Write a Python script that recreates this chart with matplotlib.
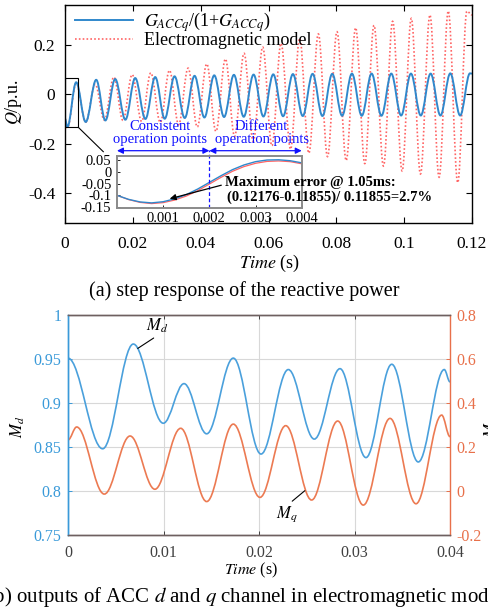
import matplotlib
matplotlib.use('Agg')
import matplotlib.pyplot as plt
from matplotlib.path import Path
from matplotlib.patches import PathPatch, Rectangle, FancyArrowPatch
from matplotlib.lines import Line2D

plt.rcParams['font.family'] = ['Liberation Serif', 'DejaVu Serif']
plt.rcParams['mathtext.fontset'] = 'stix'

# ---------------- panel (a): extrema of Q (p.u.) versus time (s) ----------------
tf_t = [0.0000, 0.0007, 0.0033, 0.0061, 0.0092, 0.0119, 0.0148, 0.0178, 0.0207, 0.0237,
        0.0266, 0.0294, 0.0323, 0.0353, 0.0382, 0.0411, 0.0440, 0.0469, 0.0498, 0.0527,
        0.0556, 0.0585, 0.0614, 0.0643, 0.0672, 0.0701, 0.0730, 0.0759, 0.0788, 0.0817,
        0.0846, 0.0875, 0.0904, 0.0933, 0.0962, 0.0991, 0.1020, 0.1049, 0.1078, 0.1107,
        0.1136, 0.1165, 0.1194, 0.1200]
tf_q = [-0.100, -0.132, 0.048, -0.112, 0.058, -0.106, 0.061, -0.103, 0.065, -0.100,
        0.069, -0.099, 0.072, -0.096, 0.074, -0.094, 0.076, -0.092, 0.078, -0.091,
        0.079, -0.090, 0.080, -0.089, 0.081, -0.088, 0.082, -0.088, 0.082, -0.087,
        0.083, -0.087, 0.083, -0.087, 0.083, -0.086, 0.083, -0.086, 0.083, -0.086,
        0.084, -0.086, 0.084, 0.083]

em_t = [0.0000, 0.0007, 0.0033, 0.0061, 0.0089, 0.0116, 0.0144, 0.0171, 0.0198, 0.0226,
        0.0253, 0.0281, 0.0308, 0.0335, 0.0363, 0.0390, 0.0418, 0.0445, 0.0473, 0.0500,
        0.0528, 0.0555, 0.0583, 0.0610, 0.0637, 0.0665, 0.0692, 0.0719, 0.0747, 0.0774,
        0.0802, 0.0829, 0.0857, 0.0884, 0.0911, 0.0939, 0.0966, 0.0994, 0.1021, 0.1048,
        0.1076, 0.1103, 0.1130, 0.1158, 0.1185, 0.1200]
em_q = [-0.100, -0.136, 0.044, -0.113, 0.040, -0.104, 0.069, -0.106, 0.079, -0.110,
        0.086, -0.114, 0.096, -0.123, 0.105, -0.132, 0.122, -0.150, 0.142, -0.170,
        0.165, -0.190, 0.190, -0.208, 0.205, -0.222, 0.225, -0.238, 0.243, -0.252,
        0.252, -0.268, 0.268, -0.280, 0.278, -0.290, 0.294, -0.310, 0.306, -0.322,
        0.320, -0.335, 0.336, -0.357, 0.335, 0.320]

# inset (zoom of the first 4 ms)
in_t = [0.0, 0.00025, 0.0005, 0.00075, 0.001, 0.00125, 0.0015, 0.00175, 0.002,
        0.00225, 0.0025, 0.00275, 0.003, 0.00325, 0.0035, 0.00375, 0.004]
in_tf = [-0.100, -0.117, -0.128, -0.132, -0.127, -0.115, -0.097, -0.073, -0.045,
         -0.017, 0.009, 0.029, 0.043, 0.050, 0.051, 0.047, 0.038]
in_em = [-0.100, -0.118, -0.130, -0.135, -0.131, -0.120, -0.103, -0.080, -0.052,
         -0.024, 0.002, 0.022, 0.036, 0.044, 0.046, 0.043, 0.034]

# ---------------- panel (b): extrema of ACC outputs ----------------
md_t = [0.0000, 0.00363, 0.00684, 0.00998, 0.01215, 0.01452, 0.01731, 0.02021, 0.02307,
        0.02579, 0.02848, 0.03120, 0.03390, 0.03668, 0.03940, 0.0400]
md_v = [0.951, 0.848, 0.967, 0.877, 0.922, 0.865, 0.951, 0.842, 0.938,
        0.859, 0.939, 0.838, 0.944, 0.833, 0.938, 0.924]
mq_t = [0.0000, 0.00091, 0.0038, 0.0065, 0.0091, 0.0118, 0.01452, 0.01731, 0.0201,
        0.0228, 0.02551, 0.02824, 0.03092, 0.03372, 0.03644, 0.03913, 0.0400]
mq_v = [0.232, 0.291, -0.014, 0.250, 0.008, 0.285, -0.048, 0.304, -0.029,
        0.297, -0.041, 0.318, -0.064, 0.330, -0.058, 0.345, 0.247]

a_xticks = [0, 0.02, 0.04, 0.06, 0.08, 0.1, 0.12]
a_xlabels = ['0', '0.02', '0.04', '0.06', '0.08', '0.1', '0.12']
a_yticks = [-0.4, -0.2, 0, 0.2]
a_ylabels = ['-0.4', '-0.2', '0', '0.2']
in_xticks = [0.001, 0.002, 0.003, 0.004]
in_xlabels = ['0.001', '0.002', '0.003', '0.004']
in_yticks = [-0.15, -0.1, -0.05, 0, 0.05]
in_ylabels = ['-0.15', '-0.1', '-0.05', '0', '0.05']
b_xticks = [0, 0.01, 0.02, 0.03, 0.04]
b_xlabels = ['0', '0.01', '0.02', '0.03', '0.04']
b_lticks = [0.75, 0.8, 0.85, 0.9, 0.95, 1.0]
b_llabels = ['0.75', '0.8', '0.85', '0.9', '0.95', '1']
b_rticks = [-0.2, 0, 0.2, 0.4, 0.6, 0.8]
b_rlabels = ['-0.2', '0', '0.2', '0.4', '0.6', '0.8']

W, H = 488, 612


def fx(x):
    return x / W


def fy(y):
    return 1 - y / H


def smooth(ax, ts, vs, **kw):
    c = 0.3634
    verts = [(ts[0], vs[0])]
    codes = [Path.MOVETO]
    for i in range(len(ts) - 1):
        h = ts[i + 1] - ts[i]
        verts += [(ts[i] + c * h, vs[i]), (ts[i + 1] - c * h, vs[i + 1]), (ts[i + 1], vs[i + 1])]
        codes += [Path.CURVE4] * 3
    p = PathPatch(Path(verts, codes), fill=False, **kw)
    ax.add_patch(p)
    return p


BLUE_A = '#3088cc'
RED_A = '#ff6464'
RED_LS = (0, (1, 1.3))

fig = plt.figure(figsize=(W / 100, H / 100), dpi=100)

# ---------------- panel (a) ----------------
ax = fig.add_axes([fx(65), fy(223), fx(472) - fx(65), fy(5) - fy(223)])
smooth(ax, em_t, em_q, edgecolor=RED_A, lw=1.2, linestyle=RED_LS)
smooth(ax, tf_t, tf_q, edgecolor=BLUE_A, lw=1.4)
ax.set_xlim(0, 0.12)
ax.set_ylim(-0.52, 0.36)
ax.set_xticks(a_xticks)
ax.set_xticklabels(a_xlabels)
ax.set_yticks(a_yticks)
ax.set_yticklabels(a_ylabels)
ax.tick_params(direction='in', top=True, right=True, length=4, width=0.8,
               labelsize=12.5, colors='black')
ax.tick_params(axis='x', pad=9)
ax.tick_params(axis='y', pad=7)
for s in ax.spines.values():
    s.set_linewidth(1.0)

handles = [Line2D([], [], color=BLUE_A, lw=1.4),
           Line2D([], [], color=RED_A, lw=1.2, linestyle=RED_LS)]
labels = [r'$G_{ACCq}$/(1+$G_{ACCq}$)', 'Electromagnetic model']
ax.legend(handles, labels, loc='upper left', bbox_to_anchor=(10 / 407, 0.975),
          frameon=False, handlelength=3.2, handletextpad=0.6, labelspacing=-0.1,
          borderaxespad=0, borderpad=0, fontsize=13)

# zoom rectangle and connector
ax.add_patch(Rectangle((0, -0.133), 0.0038, 0.198, fill=False, edgecolor='black', lw=0.8))
fig.add_artist(Line2D([fx(78.3), fx(103.3)], [fy(127.3), fy(151.7)], color='black', lw=0.8))

fig.text(fx(13), fy(102), r'$Q$/p.u.', rotation=90, ha='center', va='center', fontsize=13)
fig.text(fx(269), fy(263), r'$\it{Time}$ (s)', ha='center', va='center', fontsize=13)
fig.text(fx(244), fy(291), '(a) step response of the reactive power', ha='center',
         va='center', fontsize=14.5)

# ---------------- inset ----------------
ai = fig.add_axes([fx(117), fy(208.3), fx(301.7) - fx(117), fy(156) - fy(208.3)])
ai.plot(in_t, in_em, color=RED_A, lw=0.9)
ai.plot(in_t, in_tf, color=BLUE_A, lw=1.0)
ai.set_xlim(0, 0.004)
ai.set_ylim(-0.155, 0.067)
ai.set_xticks(in_xticks)
ai.set_xticklabels(in_xlabels)
ai.set_yticks(in_yticks)
ai.set_yticklabels(in_ylabels)
ai.tick_params(direction='in', length=2.5, width=0.6, labelsize=10.5)
ai.tick_params(axis='x', pad=3)
ai.tick_params(axis='y', pad=4)
for s in ai.spines.values():
    s.set_color('#8a8a8a')
    s.set_linewidth(1.4)
ai.axvline(0.002, color='#1010ff', lw=0.9, linestyle=(0, (3, 2)), ymax=1.11, clip_on=False)

arr_y = (208.3 - 150.7) / 52.3
for x0, x1 in [(0.0, 0.002), (0.002, 0.004)]:
    ai.annotate('', xy=(x1, arr_y), xytext=(x0, arr_y),
                xycoords=('data', 'axes fraction'), textcoords=('data', 'axes fraction'),
                arrowprops=dict(arrowstyle='<|-|>', color='#1010ff', lw=0.9,
                                mutation_scale=9, shrinkA=0, shrinkB=0),
                annotation_clip=False)
for cx, word in [(160, 'Consistent'), (261.7, 'Different')]:
    fig.text(fx(cx), fy(126.7), word, ha='center', va='center', fontsize=10.5, color='#1010ff')
    fig.text(fx(cx), fy(139.3), 'operation points', ha='center', va='center', fontsize=10.5,
             color='#1010ff')

fig.text(fx(225), fy(182.7), 'Maximum error @ 1.05ms:', ha='left', va='center',
         fontsize=10.5, fontweight='bold')
fig.text(fx(227), fy(197.3), '(0.12176-0.11855)/ 0.11855=2.7%', ha='left', va='center',
         fontsize=10.5, fontweight='bold')
fig.add_artist(FancyArrowPatch(
    (fx(224), fy(184.5)), (fx(167), fy(199.5)), transform=fig.transFigure,
    arrowstyle='-|>', mutation_scale=9, color='black', lw=0.9))

# ---------------- panel (b) ----------------
C_L = '#3a9ad9'
C_R = '#e8704a'
LINE_D = '#4aa0dc'
LINE_Q = '#ec7a52'
bx = fig.add_axes([fx(68), fy(535), fx(450) - fx(68), fy(315) - fy(535)])
br = bx.twinx()
smooth(bx, md_t, md_v, edgecolor=LINE_D, lw=1.2)
smooth(br, mq_t, mq_v, edgecolor=LINE_Q, lw=1.2)
bx.set_xlim(0, 0.04)
bx.set_ylim(0.75, 1.0)
br.set_ylim(-0.2, 0.8)
bx.set_xticks(b_xticks)
bx.set_xticklabels(b_xlabels)
bx.set_yticks(b_lticks)
bx.set_yticklabels(b_llabels)
br.set_yticks(b_rticks)
br.set_yticklabels(b_rlabels)
bx.grid(True, color='#d8d8d8', lw=0.8)
bx.set_axisbelow(True)
bx.tick_params(axis='x', direction='in', top=True, length=3, width=0.7, colors='#404040',
               labelsize=11.5, pad=7)
bx.tick_params(axis='y', direction='in', length=3, width=0.7, colors=C_L,
               labelsize=11.5, pad=4.5)
br.tick_params(axis='y', direction='in', length=3, width=0.7, colors=C_R,
               labelsize=11.5, pad=4.5)
for s in ['top', 'bottom']:
    bx.spines[s].set_color('#6e6060')
    br.spines[s].set_color('#6e6060')
bx.spines['left'].set_color(C_L)
br.spines['left'].set_color(C_L)
br.spines['right'].set_color(C_R)
bx.spines['right'].set_visible(False)
for s in list(bx.spines.values()) + list(br.spines.values()):
    s.set_linewidth(1.0)

bx.annotate(r'$M_d$', xy=(0.0073, 0.962), xytext=(0.0093, 0.977), fontsize=12,
            ha='center', va='bottom',
            arrowprops=dict(arrowstyle='-', color='black', lw=0.8, shrinkA=0, shrinkB=0,
                            relpos=(0.55, 0.0)))
br.annotate(r'$M_q$', xy=(0.0248, 0.0014), xytext=(0.0229, -0.059), fontsize=12,
            ha='center', va='top',
            arrowprops=dict(arrowstyle='-', color='black', lw=0.8, shrinkA=0, shrinkB=0,
                            relpos=(0.6, 1.0)))

fig.text(fx(18), fy(427), r'$M_d$', rotation=90, ha='center', va='center', fontsize=12)
fig.text(fx(492), fy(427), r'$M_q$', rotation=90, ha='center', va='center', fontsize=12)
fig.text(fx(251), fy(570), r'$\it{Time}$ (s)', ha='center', va='center', fontsize=11.5)
fig.text(fx(246), fy(597), r'(b) outputs of ACC $\it{d}$ and $\it{q}$ channel in electromagnetic model',
         ha='center', va='center', fontsize=15)

fig.savefig('out.png', dpi=100)
